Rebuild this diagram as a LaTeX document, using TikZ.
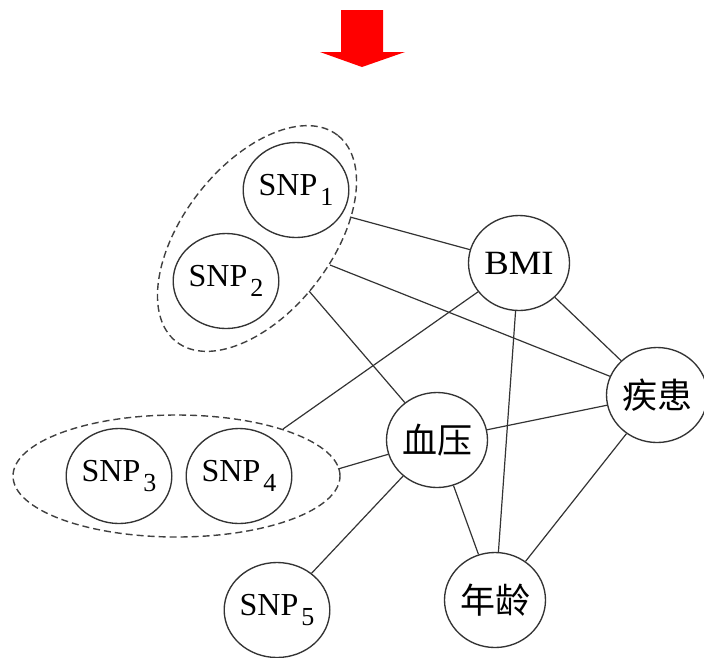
\documentclass[tikz,border=0pt]{standalone}
\usepackage{fontspec}
\setmainfont{Liberation Serif}
\newfontfamily\cjk{Noto Sans CJK SC}
\usetikzlibrary{shapes.geometric}
\newcommand{\snplabel}[1]{SNP\hspace{3pt}\raisebox{-9.5pt}{\fontsize{26}{26}\selectfont #1}}
\tikzset{
  gnode/.style={draw=black!80, line width=1.35pt, ellipse, minimum width=101pt, minimum height=95pt, inner sep=0pt, font=\fontsize{32}{36}\selectfont},
  cjknode/.style={gnode, font=\cjk\fontsize{35}{38}\selectfont},
  group/.style={draw=black!75, line width=1.4pt, dash pattern=on 7pt off 4pt, ellipse, inner sep=0pt},
  edge/.style={draw=black!80, line width=1.2pt},
  redarrow/.style={fill=red, draw=none}
}
\begin{document}
\begin{tikzpicture}[x=1pt,y=-1pt]
\useasboundingbox (0,0) rectangle (704,657);
% red arrow
\fill[redarrow] (341,10) -- (383,10) -- (383,52) -- (405,52) -- (362,67) -- (320,52) -- (341,52) -- cycle;
% groups
\node[group, minimum width=262pt, minimum height=148pt, rotate=52] (g1) at (257,238.5) {};
\node[group, minimum width=327pt, minimum height=122pt] (g2) at (176.5,476) {};
% nodes
\node[gnode] (snp1) at (296,190) {\snplabel{1}};
\node[gnode] (snp2) at (226,281) {\snplabel{2}};
\node[gnode] (snp3) at (119,476) {\snplabel{3}};
\node[gnode] (snp4) at (239,476) {\snplabel{4}};
\node[gnode] (snp5) at (277,610) {\snplabel{5}};
\node[gnode] (bmi) at (519,263) {\scalebox{1.08}[1]{\fontsize{34}{36}\selectfont BMI}};
\node[cjknode] (dis) at (657,395) {疾患};
\node[cjknode] (bp) at (437,440) {血压};
\node[cjknode] (age) at (495,600) {年龄};
% connector start points on group borders
\coordinate (c1) at (350,217);
\coordinate (c2) at (330,265);
\coordinate (c3) at (309,291);
\coordinate (c4) at (283,429);
\coordinate (c5) at (338,469);
% connectors
\draw[edge] (c1) -- (bmi);
\draw[edge] (c2) -- (dis);
\draw[edge] (c3) -- (bp);
\draw[edge] (c4) -- (bmi);
\draw[edge] (c5) -- (bp);
\draw[edge] (bmi) -- (dis);
\draw[edge] (bmi) -- (age);
\draw[edge] (bp) -- (dis);
\draw[edge] (bp) -- (age);
\draw[edge] (dis) -- (age);
\draw[edge] (bp) -- (snp5);
\end{tikzpicture}
\end{document}
